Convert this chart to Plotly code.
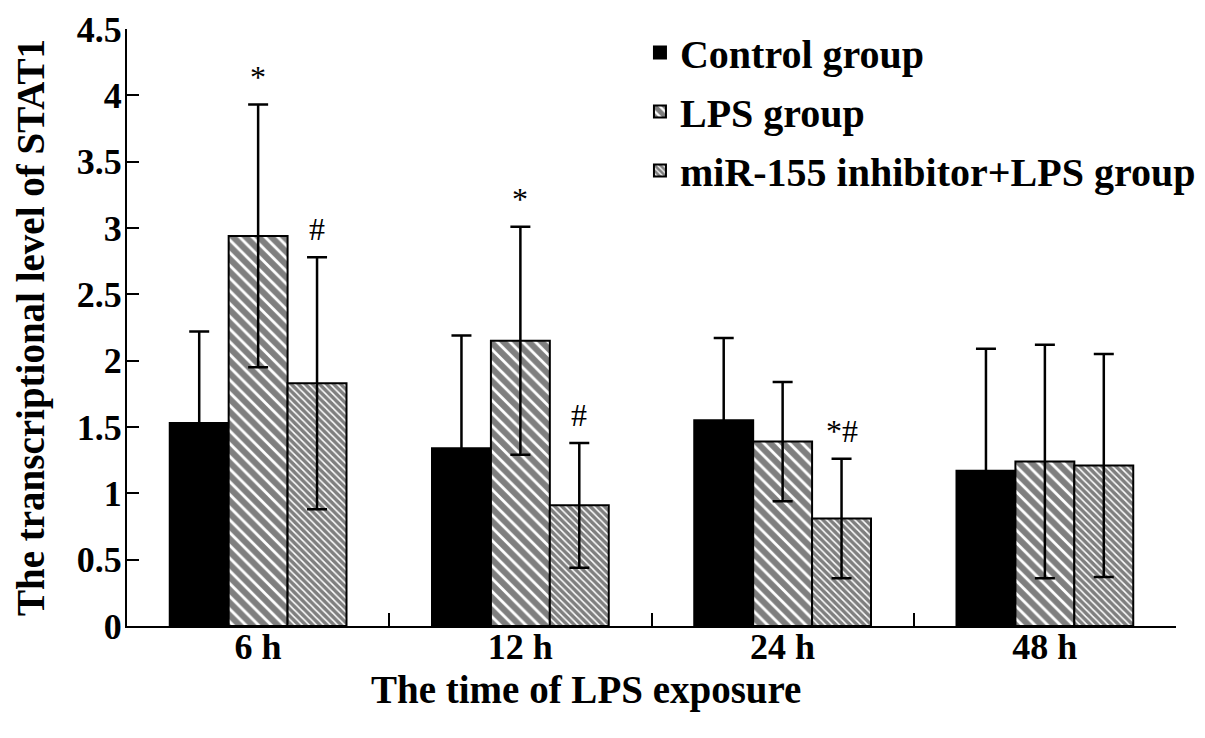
import plotly.graph_objects as go

# Data
times = ["6 h", "12 h", "24 h", "48 h"]
groups = ["Control group", "LPS group", "miR-155 inhibitor+LPS group"]

control = [1.53, 1.34, 1.55, 1.17]
control_err = [0.69, 0.85, 0.62, 0.92]
lps = [2.94, 2.15, 1.39, 1.24]
lps_err = [0.99, 0.86, 0.45, 0.88]
inhibitor = [1.83, 0.91, 0.81, 1.21]
inhibitor_err = [0.95, 0.47, 0.45, 0.84]

# (time index, group index, label)
sig_marks = [(0, 1, "*"), (0, 2, "#"), (1, 1, "*"), (1, 2, "#"), (2, 2, "*#")]

FONT = "Liberation Serif"
BARGAP = 0.326

values = [control, lps, inhibitor]
errors = [control_err, lps_err, inhibitor_err]
patterns = [
    dict(shape=""),
    dict(shape="\\", size=9, solidity=0.68, fgcolor="black", bgcolor="white"),
    dict(shape="\\", size=5, solidity=0.7, fgcolor="black", bgcolor="white"),
]
colors = ["black", "white", "white"]

fig = go.Figure()
for i, name in enumerate(groups):
    fig.add_trace(go.Bar(
        x=times,
        y=values[i],
        name=name,
        legendgroup=name,
        marker=dict(color=colors[i], pattern=patterns[i],
                    line=dict(color="black", width=2)),
        error_y=dict(type="data", array=errors[i], symmetric=True,
                     color="black", thickness=2.5, width=10),
    ))

# significance marks above the error bars
bar_w = (1 - BARGAP) / len(groups)
for t, g, label in sig_marks:
    fig.add_annotation(
        x=t + (g - 1) * bar_w,
        y=values[g][t] + errors[g][t],
        text=label,
        showarrow=False,
        yanchor="bottom",
        yshift=8,
        font=dict(family=FONT, size=32, color="black"),
    )

# axis titles
fig.add_annotation(
    text="The time of LPS exposure", xref="paper", yref="paper",
    x=0.438, y=-0.107, xanchor="center", yanchor="middle", showarrow=False,
    font=dict(family=FONT, size=39, color="black", weight="bold"),
)
fig.add_annotation(
    text="The transcriptional level of STAT1", xref="paper", yref="paper",
    x=-0.092, y=0.5, xanchor="center", yanchor="middle", textangle=-90,
    showarrow=False, font=dict(family=FONT, size=39, color="black", weight="bold"),
)

# page body adds an 8px offset, so margins are shifted to compensate
fig.update_layout(
    width=1205,
    height=738,
    margin=dict(l=119, r=36, t=18, b=120),
    plot_bgcolor="white",
    paper_bgcolor="white",
    barmode="group",
    bargap=BARGAP,
    bargroupgap=0,
    showlegend=True,
    legend=dict(
        x=0.489, y=1.015, xanchor="left", yanchor="top",
        bgcolor="rgba(0,0,0,0)", tracegroupgap=4,
        font=dict(family=FONT, size=40, color="black", weight="bold"),
    ),
    font=dict(family=FONT, color="black"),
)
fig.update_xaxes(
    automargin=False,
    showline=True, linecolor="black", linewidth=2,
    ticks="inside", tickson="boundaries", ticklen=13, tickwidth=2, tickcolor="black",
    tickfont=dict(family=FONT, size=36, color="black", weight="bold"),
    ticklabelstandoff=-12,
    showgrid=False, zeroline=False,
)
fig.update_yaxes(
    automargin=False,
    range=[0, 4.5], dtick=0.5,
    showline=True, linecolor="black", linewidth=2,
    ticks="inside", ticklen=12, tickwidth=2, tickcolor="black",
    tickfont=dict(family=FONT, size=36, color="black", weight="bold"),
    ticklabelstandoff=-4,
    showgrid=False, zeroline=False,
)

fig.write_html("out.html")
